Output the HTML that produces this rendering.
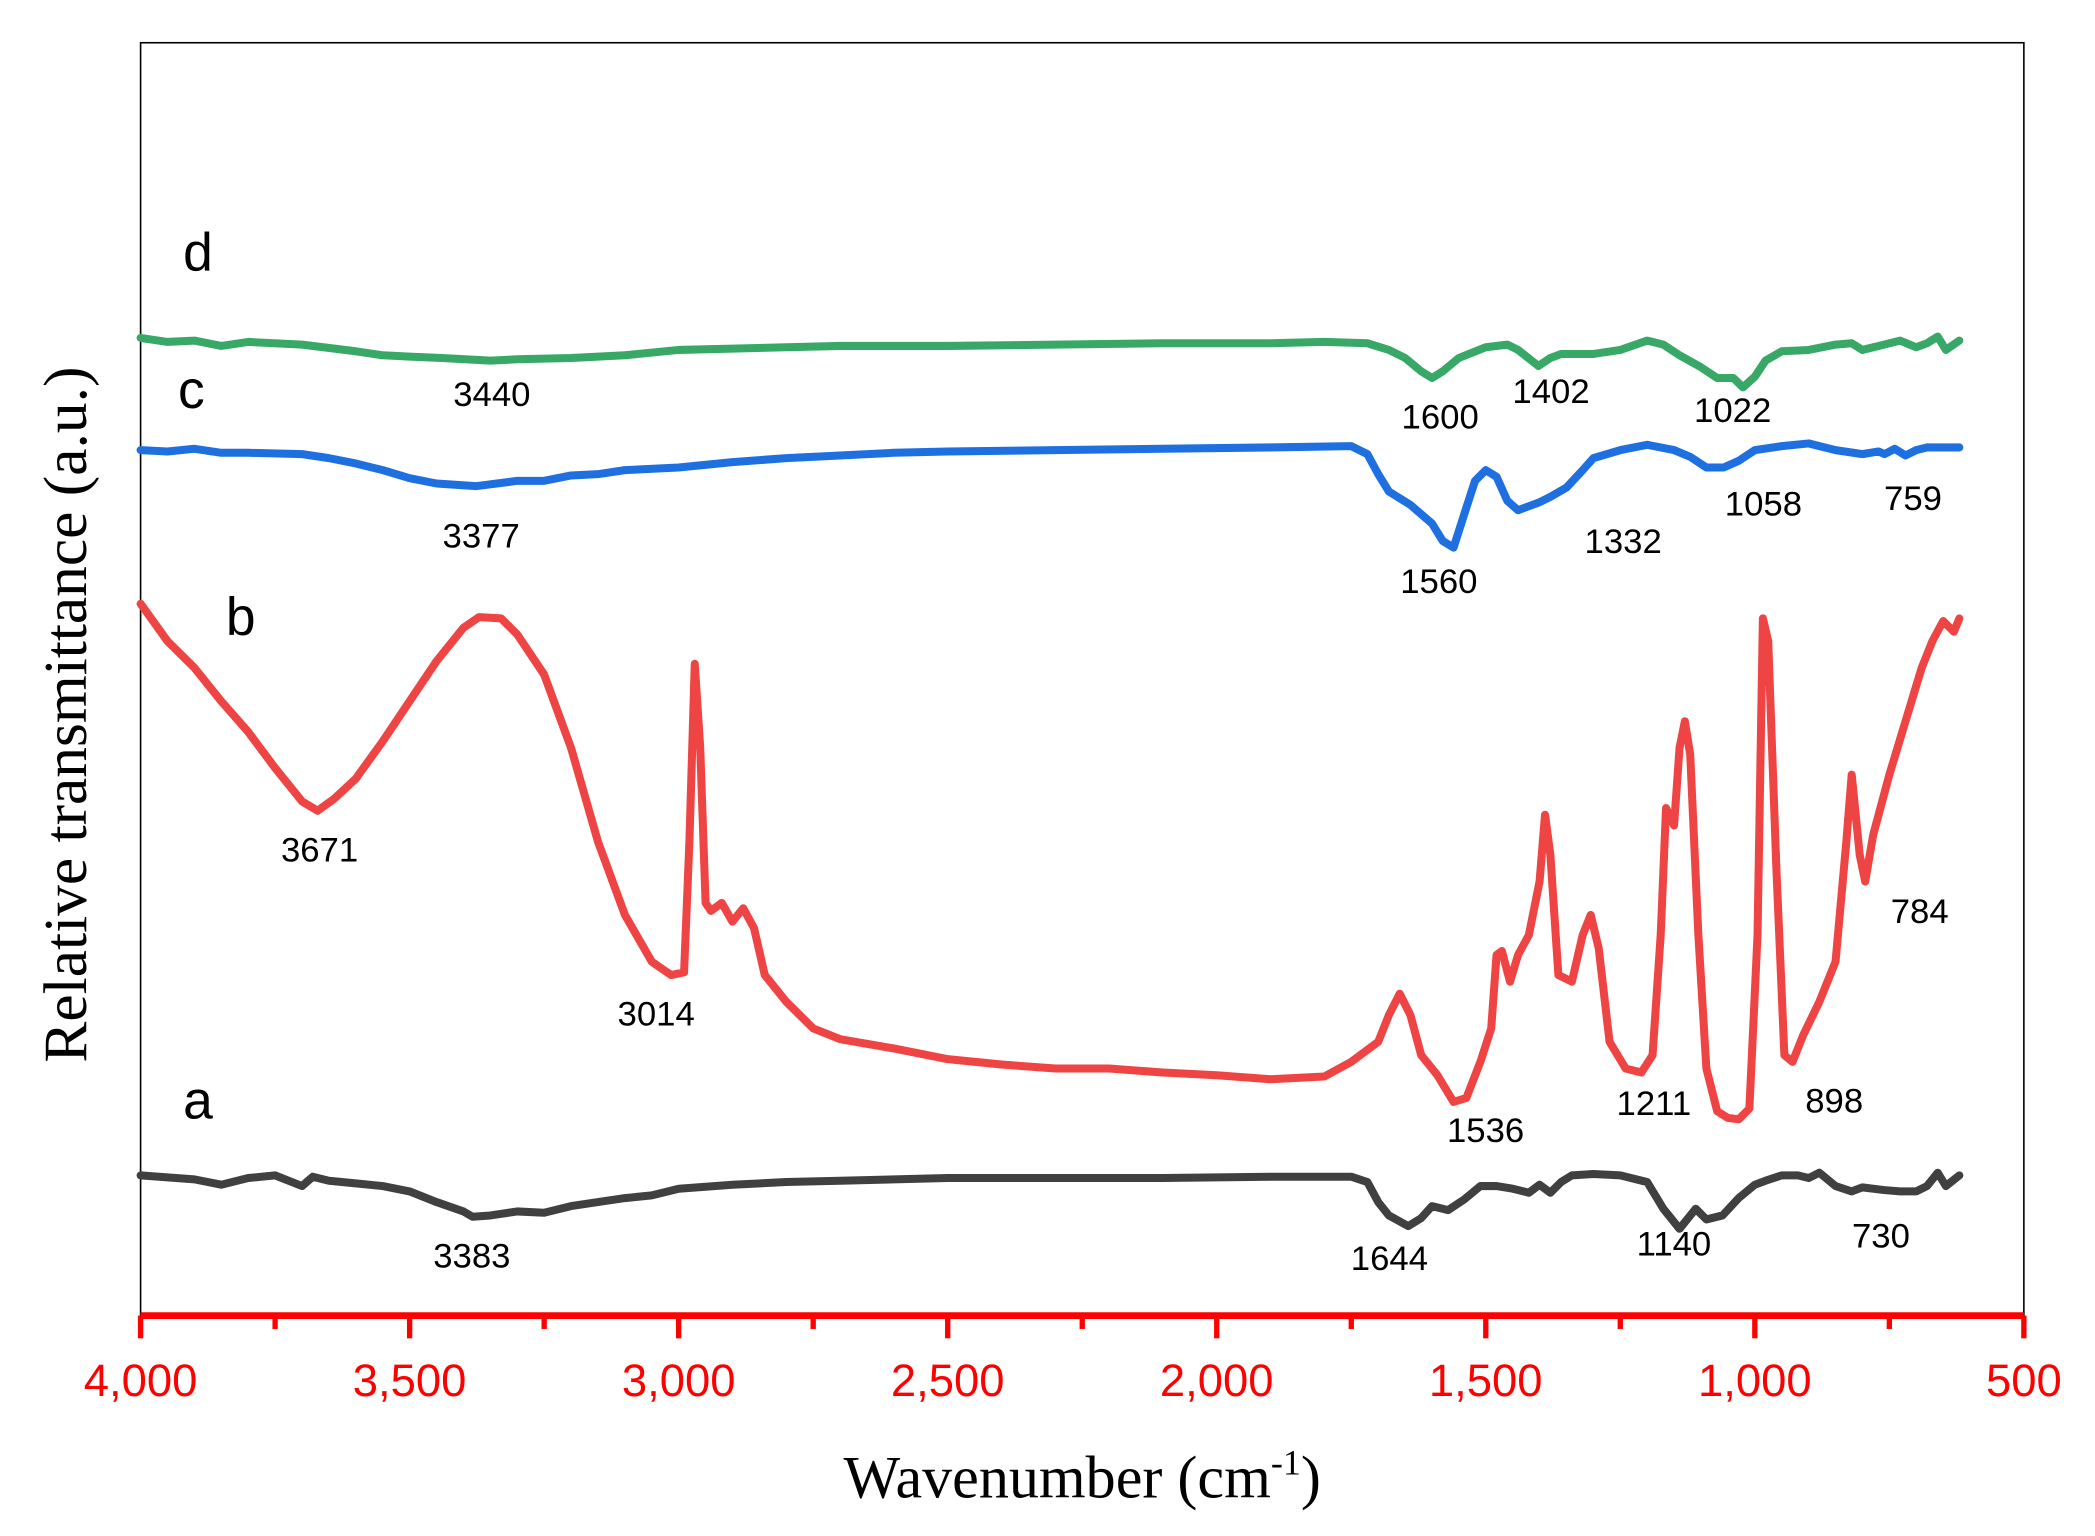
<!DOCTYPE html>
<html><head><meta charset="utf-8"><style>
html,body{margin:0;padding:0;background:#fff;}
svg{display:block;}
</style></head><body>
<svg id="s" width="2095" height="1536" viewBox="0 0 1568 1150" xmlns="http://www.w3.org/2000/svg">
<rect x="105" y="32" width="1410" height="953" fill="none" stroke="#000" stroke-width="1.2"/>
<g id="curves" fill="none" stroke-width="6" stroke-linejoin="round" stroke-linecap="round"></g>
<line x1="105" y1="985" x2="1515" y2="985" stroke="#f00" stroke-width="5"/>
<g id="ticks" stroke="#f00" stroke-width="4"></g>
<g font-family="Liberation Sans, sans-serif" font-size="34" fill="#f00" text-anchor="middle">
<text x="105" y="1045">4,000</text><text x="306.4" y="1045">3,500</text><text x="507.9" y="1045">3,000</text>
<text x="709.3" y="1045">2,500</text><text x="910.7" y="1045">2,000</text><text x="1112.1" y="1045">1,500</text>
<text x="1313.6" y="1045">1,000</text><text x="1515" y="1045">500</text>
</g>
<text x="810" y="1121" font-family="Liberation Serif, serif" font-size="45" text-anchor="middle">Wavenumber (cm<tspan dy="-17" font-size="27">-1</tspan><tspan dy="17">)</tspan></text>
<text transform="translate(64,535) rotate(-90)" font-family="Liberation Serif, serif" font-size="46" text-anchor="middle">Relative transmittance (a.u.)</text>
<g font-family="Liberation Sans, sans-serif" font-size="40" text-anchor="middle" dominant-baseline="middle">
<text x="148" y="827">a</text><text x="180" y="465">b</text><text x="143" y="295">c</text><text x="148" y="192">d</text>
</g>
<g font-family="Liberation Sans, sans-serif" font-size="26" text-anchor="middle" dominant-baseline="middle">
<text x="353" y="942">3383</text><text x="1040" y="944">1644</text><text x="1253" y="933">1140</text><text x="1408" y="927">730</text>
<text x="239" y="638">3671</text><text x="491" y="761">3014</text><text x="1112" y="848">1536</text><text x="1238" y="828">1211</text>
<text x="1373" y="826">898</text><text x="1437" y="684">784</text>
<text x="360" y="403">3377</text><text x="1077" y="437">1560</text><text x="1215" y="407">1332</text><text x="1320" y="379">1058</text><text x="1432" y="375">759</text>
<text x="368" y="297">3440</text><text x="1078" y="314">1600</text><text x="1161" y="295">1402</text><text x="1297" y="309">1022</text>
</g>
</svg>
<script>
function X(w){return 105+(4000-w)*0.402857;}
var t=document.getElementById('ticks'),h='';
for(var w=4000;w>=500;w-=250){var x=X(w);var maj=(w%500==0);h+='<line x1="'+x+'" y1="985" x2="'+x+'" y2="'+(maj?1002:995)+'"/>';}
t.innerHTML=h;
var D={
'#404040':[4000,880,3900,883,3850,887,3800,882,3750,880,3700,888,3680,881,3650,884,3600,886,3550,888,3500,892,3450,900,3400,907,3383,911,3350,910,3300,907,3250,908,3200,903,3150,900,3100,897,3050,895,3000,890,2900,887,2800,885,2700,884,2500,882,2300,882,2100,882,1900,881,1750,881,1720,885,1700,900,1680,910,1644,918,1620,912,1600,903,1570,906,1540,898,1510,888,1480,888,1450,890,1420,893,1400,887,1380,893,1360,885,1340,880,1300,879,1250,880,1200,885,1170,905,1140,920,1110,905,1090,913,1060,910,1030,897,1000,887,980,884,950,880,920,880,900,882,880,878,850,888,820,892,800,889,760,891,730,892,700,892,680,888,660,878,645,888,620,880],
'#ee4444':[4000,452,3950,480,3900,500,3850,525,3800,548,3750,575,3700,600,3671,607,3640,598,3600,583,3550,555,3500,525,3450,495,3400,470,3371,462,3330,463,3300,475,3250,505,3200,560,3150,630,3100,685,3050,720,3014,730,2990,728,2980,630,2970,497,2960,560,2950,676,2940,682,2920,676,2900,690,2880,680,2860,695,2840,730,2800,750,2750,770,2700,778,2600,785,2500,793,2400,797,2300,800,2200,800,2100,803,2000,805,1900,808,1800,806,1750,795,1700,780,1680,760,1660,744,1640,760,1620,790,1590,805,1560,825,1536,822,1510,795,1490,770,1480,715,1470,712,1455,735,1440,715,1420,700,1400,660,1390,610,1380,640,1365,730,1340,735,1320,700,1305,685,1290,710,1270,780,1240,800,1211,803,1190,790,1175,700,1165,605,1150,618,1140,560,1130,540,1120,565,1105,700,1090,800,1070,832,1050,837,1030,838,1010,830,995,700,985,463,975,480,960,650,945,790,930,795,910,775,880,750,850,720,830,630,820,580,805,640,795,660,780,625,750,580,720,540,690,500,670,480,650,465,630,473,620,463],
'#1e6fe0':[4000,337,3950,338,3900,336,3850,339,3800,339,3700,340,3650,343,3600,347,3550,352,3500,358,3450,362,3377,364,3300,360,3250,360,3200,356,3150,355,3100,352,3000,350,2900,346,2800,343,2700,341,2600,339,2500,338,2300,337,2100,336,1900,335,1750,334,1720,340,1700,355,1680,368,1640,378,1600,392,1580,405,1560,410,1540,385,1520,360,1500,352,1480,357,1460,375,1440,382,1400,376,1380,372,1350,365,1320,352,1300,343,1250,337,1200,333,1150,337,1120,342,1090,350,1058,350,1030,345,1000,337,950,334,900,332,850,337,800,340,770,338,759,340,740,336,720,341,700,337,680,335,620,335],
'#38a866':[4000,253,3950,256,3900,255,3850,259,3800,256,3700,258,3600,263,3550,266,3500,267,3440,268,3350,270,3300,269,3200,268,3100,266,3000,262,2900,261,2800,260,2700,259,2500,259,2300,258,2100,257,1900,257,1800,256,1720,257,1680,262,1650,268,1620,278,1600,283,1580,278,1550,268,1500,260,1460,258,1440,262,1402,274,1380,268,1360,265,1300,265,1250,262,1200,255,1170,258,1140,266,1100,275,1070,283,1040,283,1022,290,1000,282,980,270,950,263,900,262,850,258,820,257,800,262,760,258,730,255,700,260,680,257,660,252,645,262,620,255]
};
var g='';
for(var c in D){var a=D[c],p=[];for(var i=0;i<a.length;i+=2)p.push(X(a[i]).toFixed(1)+','+a[i+1]);
g+='<polyline stroke="'+c+'" points="'+p.join(' ')+'"/>';}
document.getElementById('curves').innerHTML=g;
</script>
</body></html>
